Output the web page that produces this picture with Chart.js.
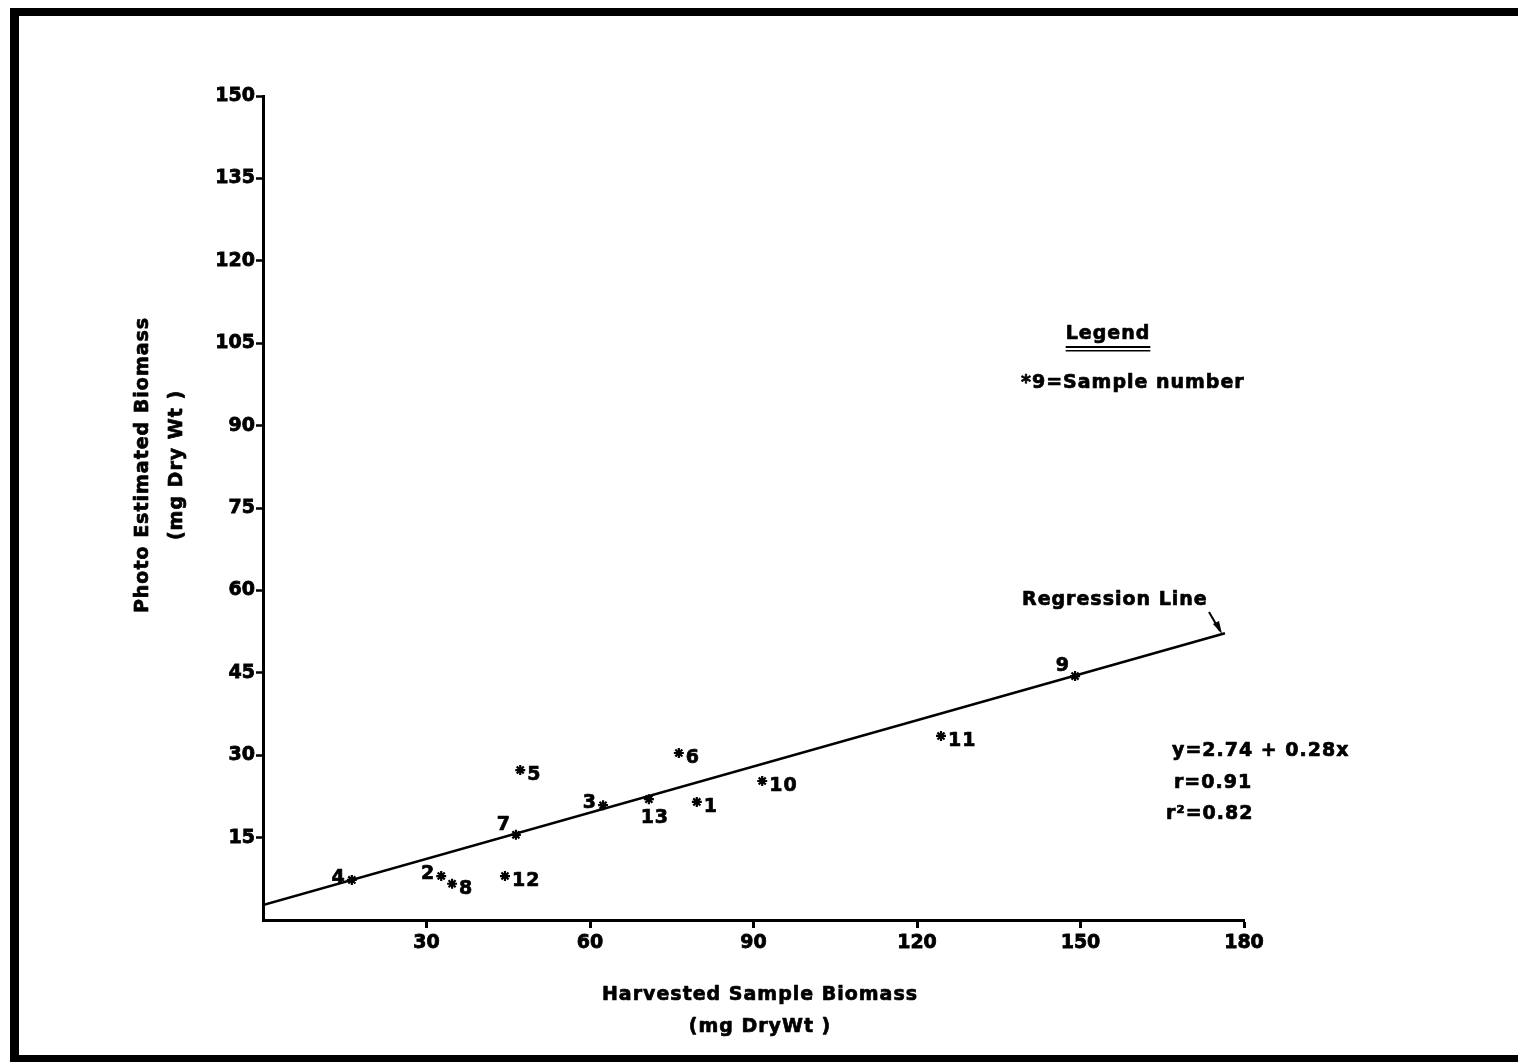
<!DOCTYPE html>
<html>
<head>
<meta charset="utf-8">
<script src="https://cdn.jsdelivr.net/npm/chart.js@4/dist/chart.umd.min.js"></script>
<style>
html,body{margin:0;padding:0;background:#fff;}
canvas{display:block;}
</style>
</head>
<body>
<canvas id="c" width="1518" height="1062"></canvas>
<script>
// Data
const sampleNumbers = ['1','2','3','4','5','6','7','8','9','10','11','12','13'];
const harvested = [79.6, 32.7, 62.4, 16.3, 47.2, 76.3, 46.4, 34.7, 149.0, 91.6, 124.4, 44.4, 70.8];
const photoEstimated = [21.5, 8.0, 20.9, 7.3, 27.3, 30.4, 15.5, 6.6, 44.4, 25.3, 33.5, 8.0, 22.0];
const labelSide = ['r','l','l','l','r','r','lu','rd','lu','r','r','r','b'];
const regressionX = [0, 176.5];
const regressionY = [2.74, 52.2];
const xTicks = [0, 30, 60, 90, 120, 150, 180];
const yTicks = [0, 15, 30, 45, 60, 75, 90, 105, 120, 135, 150];

const FONT = '"DejaVu Sans", sans-serif';

const scatterData = harvested.map((x, i) => ({x: x, y: photoEstimated[i]}));
const regData = regressionX.map((x, i) => ({x: x, y: regressionY[i]}));

function spaced(ctx, px) {
  if ('letterSpacing' in ctx) ctx.letterSpacing = px + 'px';
}
function txt(ctx, s, x, y) {
  ctx.fillText(s, x, y);
  ctx.strokeText(s, x, y);
}

const decorPlugin = {
  id: 'decor',
  afterDraw(chart) {
    const ctx = chart.ctx;
    ctx.save();
    // frame
    ctx.fillStyle = '#000';
    ctx.fillRect(10, 8, 9, 1054);
    ctx.fillRect(10, 8, 1508, 8);
    ctx.fillRect(10, 1055, 1508, 7);

    ctx.strokeStyle = '#000';
    ctx.lineWidth = 0.7;
    ctx.lineJoin = 'round';

    // sample labels
    const meta = chart.getDatasetMeta(0);
    ctx.fillStyle = '#000';
    ctx.font = 'bold 19px ' + FONT;
    spaced(ctx, 1);
    ctx.textBaseline = 'middle';
    meta.data.forEach((pt, i) => {
      const s = labelSide[i];
      const t = sampleNumbers[i];
      let x = pt.x, y = pt.y;
      if (s === 'r' || s === 'rd') { ctx.textAlign = 'left'; txt(ctx, t, x + 7, y + 5); }
      else if (s === 'l') { ctx.textAlign = 'right'; txt(ctx, t, x - 6, y - 2); }
      else if (s === 'lu') { ctx.textAlign = 'right'; txt(ctx, t, x - 5, y - 10); }
      else if (s === 'b') { ctx.textAlign = 'center'; txt(ctx, t, x + 6, y + 19); }
    });

    // axis titles
    ctx.textAlign = 'center';
    txt(ctx, 'Harvested Sample Biomass', 760, 995);
    txt(ctx, '(mg DryWt )', 760, 1027);
    ctx.save();
    ctx.translate(143, 465);
    ctx.rotate(-Math.PI / 2);
    txt(ctx, 'Photo Estimated Biomass', 0, 0);
    ctx.restore();
    ctx.save();
    ctx.translate(177, 465);
    ctx.rotate(-Math.PI / 2);
    txt(ctx, '(mg Dry Wt )', 0, 0);
    ctx.restore();

    // legend
    ctx.textAlign = 'center';
    txt(ctx, 'Legend', 1108, 334);
    const lw = ctx.measureText('Legend').width;
    ctx.fillRect(1108 - lw / 2, 346, lw, 2);
    ctx.fillRect(1108 - lw / 2, 350, lw, 1.5);
    ctx.textAlign = 'left';
    txt(ctx, '*9=Sample number', 1021, 383);

    // regression label and arrow
    txt(ctx, 'Regression Line', 1022, 600);
    ctx.lineWidth = 2;
    ctx.beginPath();
    ctx.moveTo(1209, 612);
    ctx.lineTo(1220, 631);
    ctx.stroke();
    ctx.beginPath();
    ctx.moveTo(1222, 634);
    ctx.lineTo(1213, 624);
    ctx.lineTo(1219, 621);
    ctx.closePath();
    ctx.fill();

    // equation
    ctx.lineWidth = 0.7;
    txt(ctx, 'y=2.74 + 0.28x', 1172, 751);
    txt(ctx, 'r=0.91', 1174, 783);
    txt(ctx, 'r\u00B2=0.82', 1166, 814);
    spaced(ctx, 0);
    ctx.restore();
  }
};

const hideZero = (c) => (c.tick && c.tick.value === 0) ? 'rgba(0,0,0,0)' : '#000';

new Chart(document.getElementById('c'), {
  data: {
    datasets: [
      {
        type: 'scatter',
        data: scatterData,
        pointStyle: 'star',
        pointRadius: 5,
        borderColor: '#000',
        backgroundColor: '#000',
        borderWidth: 2.2,
        order: 0
      },
      {
        type: 'line',
        data: regData,
        borderColor: '#000',
        borderWidth: 2.5,
        pointRadius: 0,
        fill: false,
        tension: 0,
        order: 1
      }
    ]
  },
  options: {
    responsive: false,
    animation: false,
    events: [],
    layout: { padding: { top: 96, right: 274, left: 0, bottom: 0 } },
    plugins: { legend: { display: false }, tooltip: { enabled: false } },
    scales: {
      x: {
        type: 'linear',
        min: 0, max: 180,
        afterBuildTicks(scale) { scale.ticks = xTicks.map(v => ({value: v})); },
        afterFit(scale) { scale.height = 142; },
        border: { display: true, color: '#000', width: 3 },
        grid: { drawOnChartArea: false, drawTicks: true, tickLength: 8, tickWidth: 3, color: hideZero },
        ticks: {
          color: '#000',
          textStrokeColor: '#000',
          textStrokeWidth: 0.8,
          font: { family: FONT, weight: 'bold', size: 19 },
          padding: 4,
          maxRotation: 0,
          callback: (v) => v === 0 ? '' : String(v)
        }
      },
      y: {
        type: 'linear',
        min: 0, max: 150,
        afterBuildTicks(scale) { scale.ticks = yTicks.map(v => ({value: v})); },
        afterFit(scale) { scale.width = 263; },
        border: { display: true, color: '#000', width: 3 },
        grid: { drawOnChartArea: false, drawTicks: true, tickLength: 7, tickWidth: 2.5, color: hideZero },
        ticks: {
          color: '#000',
          textStrokeColor: '#000',
          textStrokeWidth: 0.8,
          font: { family: FONT, weight: 'bold', size: 19 },
          padding: 1,
          callback: (v) => v === 0 ? '' : String(v)
        }
      }
    }
  },
  plugins: [decorPlugin]
});
</script>
</body>
</html>
